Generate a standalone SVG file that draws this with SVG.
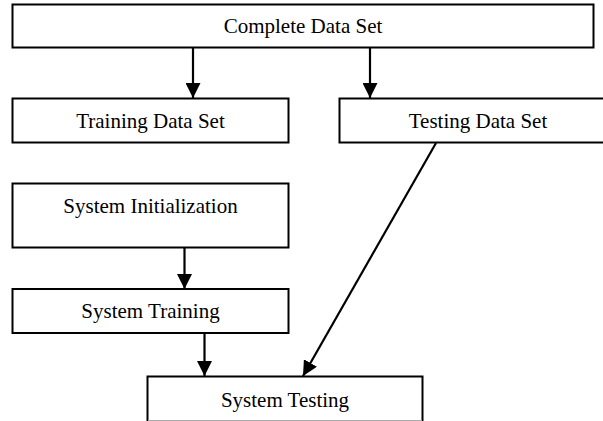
<svg xmlns="http://www.w3.org/2000/svg" width="603" height="421" viewBox="0 0 603 421">
<style>
.box{fill:#fff;stroke:#000;stroke-width:2}
.lbl{font-family:"Liberation Serif","Times New Roman",serif;font-size:21px;fill:#000;text-anchor:middle}
.conn{stroke:#000;stroke-width:2.2;fill:none;marker-end:url(#ah)}
</style>
<defs>
<marker id="ah" markerUnits="userSpaceOnUse" markerWidth="16" markerHeight="15" refX="15" refY="7.5" orient="auto">
<path d="M0,0 L15,7.5 L0,15 z" fill="#000"/>
</marker>
</defs>
<rect width="603" height="421" fill="#fff"/>
<g id="complete"><rect class="box" x="12.5" y="4.5" width="581" height="43"/><text class="lbl" x="303" y="33">Complete Data Set</text></g>
<g id="training"><rect class="box" x="12.5" y="98.5" width="276" height="44"/><text class="lbl" x="150.5" y="128">Training Data Set</text></g>
<g id="testing"><rect class="box" x="339.5" y="98.5" width="277" height="44"/><text class="lbl" x="478" y="128">Testing Data Set</text></g>
<g id="sysinit"><rect class="box" x="12.5" y="183.5" width="276" height="64"/><text class="lbl" x="150.5" y="213">System Initialization</text></g>
<g id="systrain"><rect class="box" x="12.5" y="289" width="276" height="44"/><text class="lbl" x="150.5" y="318">System Training</text></g>
<g id="systest"><rect x="147.5" y="376.5" width="275" height="44" fill="#fff"/><path class="box" d="M147.5,421 V376.5 H422.5 V421" fill="none"/><line x1="148" y1="420.5" x2="422" y2="420.5" stroke="#aaa" stroke-width="1"/><text class="lbl" x="285" y="407">System Testing</text></g>
<g id="connectors">
<line class="conn" x1="193" y1="48" x2="193" y2="98"/>
<line class="conn" x1="370" y1="48" x2="370" y2="98"/>
<line class="conn" x1="184.5" y1="248" x2="184.5" y2="289"/>
<line class="conn" x1="204.5" y1="334" x2="204.5" y2="376"/>
<line class="conn" x1="436" y1="143" x2="303" y2="376"/>
</g>
</svg>
